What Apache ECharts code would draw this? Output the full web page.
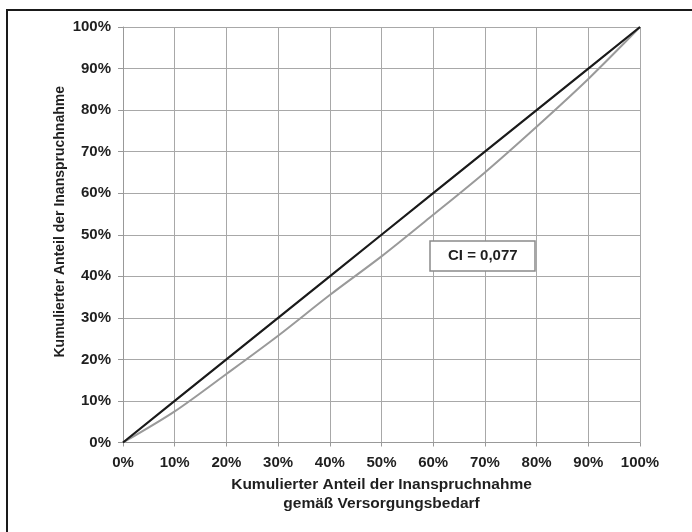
<!DOCTYPE html>
<html>
<head>
<meta charset="utf-8">
<script src="https://cdn.jsdelivr.net/npm/echarts@6/dist/echarts.min.js"></script>
<style>
html,body{margin:0;padding:0;background:#fff;}
#c{width:692px;height:532px;}
</style>
</head>
<body>
<div id="c"></div>
<script>
var xShares = [0, 10, 20, 30, 40, 50, 60, 70, 80, 90, 100];
var equalityLine = [0, 10, 20, 30, 40, 50, 60, 70, 80, 90, 100];
var concentrationCurve = [0, 7.5, 16.5, 25.7, 35.5, 44.8, 54.8, 65.0, 76.0, 87.5, 100];
var ciLabel = 'CI = 0,077';
var xAxisTitle = 'Kumulierter Anteil der Inanspruchnahme\ngemäß Versorgungsbedarf';
var yAxisTitle = 'Kumulierter Anteil der Inanspruchnahme';

function pairs(xs, ys) { return xs.map(function (x, i) { return [x, ys[i]]; }); }

var font = 'Liberation Sans, Arial, sans-serif';
var chart = echarts.init(document.getElementById('c'));
chart.setOption({
  animation: false,
  backgroundColor: '#fff',
  grid: { left: 123, right: 52, top: 27, bottom: 89.5, containLabel: false },
  title: {
    text: ciLabel,
    left: 430, top: 241,
    padding: [7, 18],
    borderColor: '#8a8a8a', borderWidth: 1.5,
    backgroundColor: '#fff',
    textStyle: { fontFamily: font, fontWeight: 'bold', fontSize: 15, lineHeight: 16, color: '#1f1f1f' }
  },
  xAxis: {
    type: 'value', min: 0, max: 100, interval: 10,
    name: xAxisTitle, nameLocation: 'middle', nameGap: 33, nameMoveOverlap: false,
    nameTextStyle: { fontFamily: font, fontWeight: 'bold', fontSize: 15.5, color: '#1f1f1f', lineHeight: 19, verticalAlign: 'top' },
    axisLine: { show: true, lineStyle: { color: '#999', width: 1 } },
    axisTick: { show: true, length: 4, lineStyle: { color: '#999' } },
    axisLabel: { formatter: '{value}%', fontFamily: font, fontWeight: 'bold', fontSize: 15, color: '#1f1f1f', margin: 13 },
    splitLine: { show: true, lineStyle: { color: '#a8a8a8', width: 1 } }
  },
  yAxis: {
    type: 'value', min: 0, max: 100, interval: 10,
    name: yAxisTitle, nameLocation: 'middle', nameGap: 56, nameMoveOverlap: false,
    nameTextStyle: { fontFamily: font, fontWeight: 'bold', fontSize: 14, color: '#1f1f1f', padding: [0, 0, 0, 26] },
    axisLine: { show: true, lineStyle: { color: '#999', width: 1 } },
    axisTick: { show: true, length: 5, lineStyle: { color: '#999' } },
    axisLabel: { formatter: '{value}%', fontFamily: font, fontWeight: 'bold', fontSize: 15, color: '#1f1f1f', margin: 12 },
    splitLine: { show: true, lineStyle: { color: '#a8a8a8', width: 1 } }
  },
  series: [
    {
      type: 'line', data: pairs(xShares, concentrationCurve), smooth: 0.3,
      symbol: 'none', lineStyle: { color: '#9a9a9a', width: 2 }, z: 3
    },
    {
      type: 'line', data: pairs(xShares, equalityLine),
      symbol: 'none', lineStyle: { color: '#1a1a1a', width: 2.2 }, z: 4
    }
  ],
  graphic: [
    { type: 'line', shape: { x1: 7, y1: 10, x2: 692, y2: 10 }, style: { stroke: '#1a1a1a', lineWidth: 2 } },
    { type: 'line', shape: { x1: 7, y1: 9, x2: 7, y2: 532 }, style: { stroke: '#1a1a1a', lineWidth: 2 } }
  ]
});
</script>
</body>
</html>
